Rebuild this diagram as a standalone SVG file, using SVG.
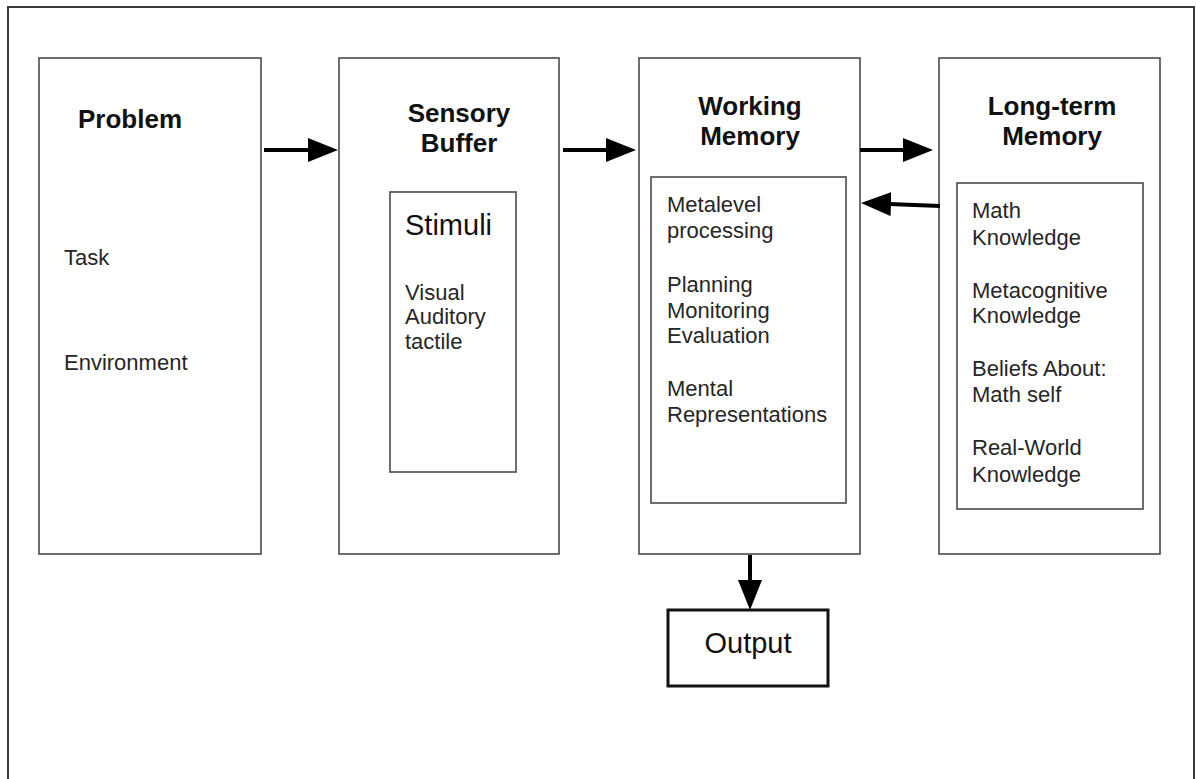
<svg xmlns="http://www.w3.org/2000/svg" width="1196" height="779" viewBox="0 0 1196 779">
  <style>
    .frame { fill: #ffffff; stroke: #3a3a3a; stroke-width: 2; }
    .box { fill: #ffffff; stroke: #4a4a4a; stroke-width: 1.6; }
    .inner { fill: #ffffff; stroke: #4a4a4a; stroke-width: 1.6; }
    .out { fill: #ffffff; stroke: #111111; stroke-width: 3; }
    .title { font-family: "Liberation Sans", Arial, sans-serif; font-weight: bold; font-size: 26px; fill: #111111; text-anchor: middle; }
    .body { font-family: "Liberation Sans", Arial, sans-serif; font-size: 22px; fill: #262626; }
    .big { font-family: "Liberation Sans", Arial, sans-serif; font-size: 29px; fill: #111111; }
    .arrow { stroke: #000000; stroke-width: 4; fill: none; marker-end: url(#head); }
  </style>
  <defs>
    <marker id="head" markerUnits="userSpaceOnUse" markerWidth="30" markerHeight="24" refX="2" refY="12" orient="auto">
      <path d="M0,0 L30,12 L0,24 Z" fill="#000000"/>
    </marker>
  </defs>

  <rect id="background" x="0" y="0" width="1196" height="779" fill="#ffffff"/>
  <rect id="frame" class="frame" x="8" y="7" width="1186" height="800"/>

  <g id="problem">
    <rect class="box" x="39" y="58" width="222" height="496"/>
    <text class="title" x="130" y="128">Problem</text>
    <text class="body" x="64" y="265">Task</text>
    <text class="body" x="64" y="370">Environment</text>
  </g>

  <g id="sensory-buffer">
    <rect class="box" x="339" y="58" width="220" height="496"/>
    <text class="title" x="459" y="122">Sensory</text>
    <text class="title" x="459" y="152">Buffer</text>
    <rect class="inner" x="390" y="192" width="126" height="280"/>
    <text class="big" x="405" y="235">Stimuli</text>
    <text class="body" x="405" y="300">Visual</text>
    <text class="body" x="405" y="324">Auditory</text>
    <text class="body" x="405" y="349">tactile</text>
  </g>

  <g id="working-memory">
    <rect class="box" x="639" y="58" width="221" height="496"/>
    <text class="title" x="750" y="115">Working</text>
    <text class="title" x="750" y="145">Memory</text>
    <rect class="inner" x="651" y="177" width="195" height="326"/>
    <text class="body" x="667" y="212">Metalevel</text>
    <text class="body" x="667" y="238">processing</text>
    <text class="body" x="667" y="292">Planning</text>
    <text class="body" x="667" y="318">Monitoring</text>
    <text class="body" x="667" y="343">Evaluation</text>
    <text class="body" x="667" y="396">Mental</text>
    <text class="body" x="667" y="422">Representations</text>
  </g>

  <g id="long-term-memory">
    <rect class="box" x="939" y="58" width="221" height="496"/>
    <text class="title" x="1052" y="115">Long-term</text>
    <text class="title" x="1052" y="145">Memory</text>
    <rect class="inner" x="957" y="183" width="186" height="326"/>
    <text class="body" x="972" y="218">Math</text>
    <text class="body" x="972" y="245">Knowledge</text>
    <text class="body" x="972" y="298">Metacognitive</text>
    <text class="body" x="972" y="323">Knowledge</text>
    <text class="body" x="972" y="376">Beliefs About:</text>
    <text class="body" x="972" y="402">Math self</text>
    <text class="body" x="972" y="455">Real-World</text>
    <text class="body" x="972" y="482">Knowledge</text>
  </g>

  <g id="output">
    <rect class="out" x="668" y="610" width="160" height="76"/>
    <text class="big" x="748" y="653" text-anchor="middle">Output</text>
  </g>

  <g id="connectors">
    <line class="arrow" x1="264" y1="150" x2="310" y2="150"/>
    <line class="arrow" x1="563" y1="150" x2="608" y2="150"/>
    <line class="arrow" x1="860" y1="150" x2="905" y2="150"/>
    <line class="arrow" x1="940" y1="206" x2="889" y2="204"/>
    <line class="arrow" x1="750" y1="555" x2="750" y2="582"/>
  </g>
</svg>
